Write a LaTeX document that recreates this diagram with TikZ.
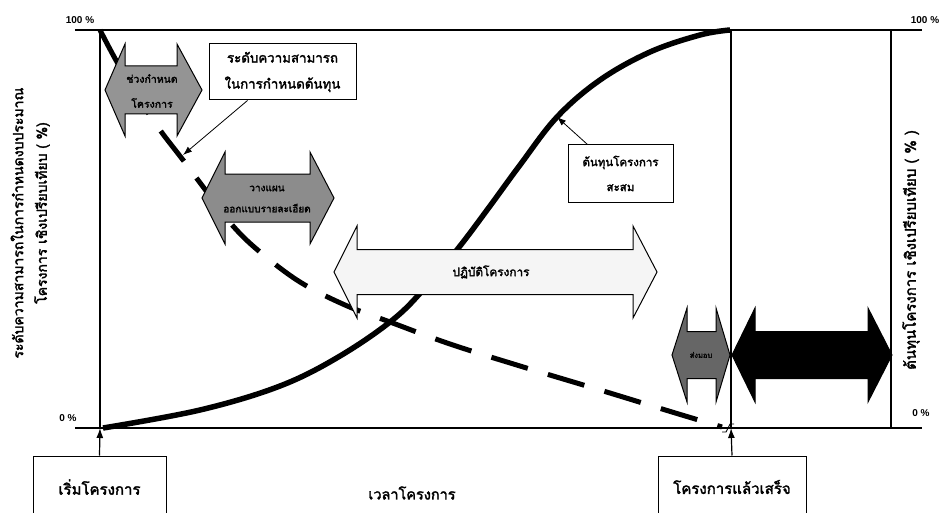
\documentclass[tikz,border=0pt]{standalone}
\usepackage{fontspec}
\setmainfont{Liberation Sans}
\newfontfamily\thai[Script=Thai, FakeBold=2.2]{Loma}
\usetikzlibrary{arrows.meta}

% double-headed block arrow: tips x1,x2; head bases xa,xb; centre y; half shaft; half head
\newcommand{\dblblock}[8][]{%
  \path[#1] (#2,#6) -- (#4,#6-#8) -- (#4,#6-#7) -- (#5,#6-#7) -- (#5,#6-#8)
    -- (#3,#6) -- (#5,#6+#8) -- (#5,#6+#7) -- (#4,#6+#7) -- (#4,#6+#8) -- cycle;}

\begin{document}
\begin{tikzpicture}[x=1pt,y=-1pt,
  frame/.style={line width=1.3pt},
  costcurve/.style={line width=5.5pt},
  abilitycurve/.style={line width=5pt, dash pattern=on 38pt off 21pt},
  blk/.style={draw=black, line width=1pt},
  ptr/.style={line width=0.8pt, -{Latex[length=9pt,width=6.5pt]}},
  uparrow/.style={line width=1.2pt, -{Latex[length=10pt,width=7pt]}},
  boxlabel/.style={draw, line width=1pt, align=center},
  pct/.style={font=\bfseries\fontsize{10}{11}\selectfont},
  axislabel/.style={rotate=90, font=\thai\fontsize{14}{16}\selectfont},
  inarrow/.style={align=center}]
\useasboundingbox (0,0) rectangle (949,513);
\clip (0,0) rectangle (949,513);
\fill[white] (0,0) rectangle (949,513);

% reference lines and axes
\coordinate (origin) at (100,428);
\coordinate (lefttop) at (100,30);
\coordinate (finish) at (731,428);
\coordinate (finishtop) at (731,30);
\coordinate (rightbot) at (891,428);
\coordinate (righttop) at (891,30);
\draw[frame] (75,30) -- (922,30);
\draw[frame] (75,428) -- (922,428);
\draw[frame] (lefttop) -- (origin);
\draw[frame] (finishtop) -- (finish);
\draw[frame] (righttop) -- (rightbot);
\draw[line width=0.9pt] (722,432) -- (726,432) -- (730,424) -- (734,424);

% percentage marks
\node[pct] (l100) at (80,20) {100 \%};
\node[pct] (l0) at (68,418) {0 \%};
\node[pct] (r100) at (925,20) {100 \%};
\node[pct] (r0) at (921,413) {0 \%};

% axis titles
\node[axislabel] (ylab1) at (17,223) {ระดับความสามารถในการกำหนดงบประมาณ};
\node[axislabel] (ylab2) at (42,213) {โครงการ เชิงเปรียบเทียบ ( \%)};
\node[axislabel, font=\thai\fontsize{15}{16}\selectfont] (ylabr) at (911,250)
  {ต้นทุนโครงการ เชิงเปรียบเทียบ ( \% )};
\node[font=\thai\fontsize{14.5}{16}\selectfont] (xlab) at (412,493) {เวลาโครงการ};

% cumulative cost curve
\draw[costcurve] plot[smooth, tension=0.6] coordinates {(103,428) (200,410) (280,386)
  (340,356) (395,318) (430,282) (460,246) (490,206) (520,165) (557,117) (600,80)
  (650,52) (700,35) (730,30)};

% ability to influence cost
\draw[abilitycurve] plot[smooth, tension=0.6] coordinates {(100,30) (117,62) (140,100)
  (160,130) (183,160) (207,192) (233,226) (260,252) (300,282) (345,305) (390,322)
  (450,344) (520,366) (600,390) (672,412) (722,427)};

% phase arrows
\dblblock[blk, fill=black!42]{105}{202}{125}{177}{90}{24}{46}
\node[inarrow, font=\thai\fontsize{10.5}{25}\selectfont] (ph1) at (152,91) {ช่วงกำหนด\\โครงการ};
\dblblock[blk, fill=black!45]{202}{334}{225}{310}{198}{24}{46}
\node[inarrow, font=\thai\fontsize{10}{21}\selectfont] (ph2) at (267,199) {วางแผน\\ออกแบบรายละเอียด};
\dblblock[blk, fill=black!4]{334}{657}{357}{633}{272}{22.5}{46}
\node[inarrow, font=\thai\fontsize{11.8}{13}\selectfont] (ph3) at (491,272) {ปฏิบัติโครงการ};
\dblblock[blk, fill=black!60]{672}{730}{687}{716}{355}{23.5}{47}
\node[inarrow, font=\thai\fontsize{7.5}{8}\selectfont] (ph4) at (701,355) {ส่งมอบ};
\dblblock[blk, fill=black]{732}{892}{755}{868}{355}{23.5}{47}

% callouts
\node[boxlabel, minimum width=147pt, minimum height=56pt,
  font=\thai\fontsize{13.3}{26}\selectfont] (capbox) at (282.5,72)
  {ระดับความสามารถ\\ในการกำหนดต้นทุน};
\coordinate (captip) at (183,155);
\draw[ptr] ([xshift=-35pt]capbox.south) -- (captip);

\node[boxlabel, minimum width=105pt, minimum height=57pt,
  font=\thai\fontsize{11.5}{25}\selectfont] (costbox) at (620.5,173.5)
  {ต้นทุนโครงการ\\สะสม};
\coordinate (costtip) at (557,117);
\draw[ptr] ([xshift=-33pt]costbox.north) -- (costtip);

% start and finish markers
\node[boxlabel, minimum width=133pt, minimum height=62pt, font=\thai\fontsize{15}{16}\selectfont]
  (startbox) at (99.5,487) {เริ่มโครงการ};
\draw[uparrow] (startbox.north) -- (origin);
\node[boxlabel, minimum width=148pt, minimum height=62pt, font=\thai\fontsize{15}{16}\selectfont]
  (endbox) at (732,487) {โครงการแล้วเสร็จ};
\draw[uparrow] (endbox.north) -- (finish);
\end{tikzpicture}
\end{document}
